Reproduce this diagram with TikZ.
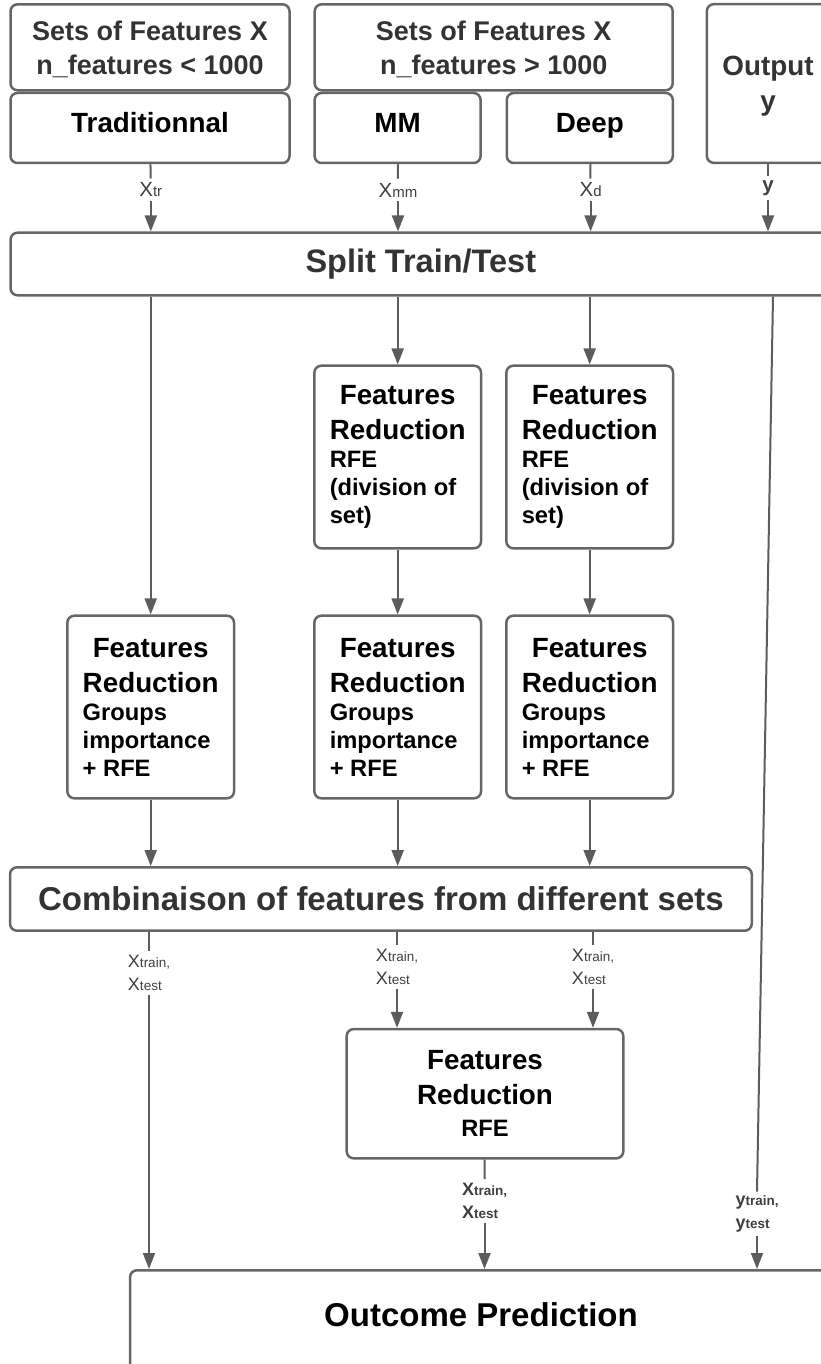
\documentclass[tikz,border=0pt]{standalone}
\usepackage{fontspec}
\setmainfont{Liberation Sans}
\usetikzlibrary{arrows.meta}
\definecolor{boxgray}{HTML}{666666}
\definecolor{linegray}{HTML}{5C5C5C}
\definecolor{darktext}{HTML}{333333}
\definecolor{labgray}{HTML}{3F3F3F}
\newcommand{\bigfont}{\fontsize{27.8}{35}\selectfont}
\newcommand{\smallfont}{\fontsize{23.7}{28}\selectfont}
\newlength{\redwidth}
% first two lines centred, the rest flush left
\newcommand{\featred}[1]{%
  \settowidth{\redwidth}{\bfseries\bigfont Reduction}%
  {\bigfont\makebox[\redwidth][c]{Features}}\\[7pt]
  {\bigfont Reduction}\\ #1}
\newcommand{\xs}[2]{{\fontsize{18}{23}\selectfont #1}{\fontsize{13.5}{23}\selectfont #2}}
\newcommand{\xt}[2]{{\fontsize{20.5}{23}\selectfont #1}{\fontsize{15}{23}\selectfont #2}}
\tikzset{
        box/.style={draw=boxgray, line width=2.5pt, rounded corners=7pt, inner sep=0pt, font=\bfseries\bigfont, align=center},
        dark/.style={box, text=darktext},
        tbox/.style={box, minimum height=70pt, text height=16pt, text depth=6pt},
        frbox/.style={box, minimum width=166.7pt, minimum height=182.6pt, font=\bfseries\smallfont, align=left},
        conn/.style={draw=linegray, line width=2pt},
        arr/.style={conn, -{Triangle[length=16pt, width=12pt]}},
        lbl/.style={text=labgray, inner sep=4pt, align=left, font=\fontsize{18}{23}\selectfont},
        blbl/.style={lbl, font=\bfseries\fontsize{18}{23}\selectfont}
          }
\begin{document}
\begin{tikzpicture}[x=1pt, y=-1pt]
        \useasboundingbox (0,0) rectangle (821,1364);
        \clip (0,0) rectangle (821,1364);
        % inputs
        \node[dark, minimum width=279pt, minimum height=86pt, text depth=0pt, font=\bfseries\fontsize{27}{34}\selectfont] (setsA) at (150,47.3) {Sets of Features X\\n\_features < 1000};
        \node[tbox, minimum width=279pt] (trad) at (150,128) {Traditionnal};
        \node[dark, minimum width=358pt, minimum height=86pt, text depth=0pt, font=\bfseries\fontsize{27}{34}\selectfont] (setsB) at (493.7,47.3) {Sets of Features X\\n\_features > 1000};
        \node[tbox, minimum width=166pt] (mm) at (397.6,128) {MM};
        \node[tbox, minimum width=166pt] (deep) at (589.8,128) {Deep};
        \node[dark, minimum width=122.4pt, minimum height=158.7pt, text depth=0pt] (out) at (768,83.5) {Output\\y};
        \node[dark, minimum width=820.5pt, minimum height=62.6pt, font=\bfseries\fontsize{32.5}{38}\selectfont] (split) at (420.8,264) {Split Train/Test};
        % reductions
        \node[frbox] (rfe1) at (397.7,457) {\featred{RFE\\(division of\\set)}};
        \node[frbox] (rfe2) at (589.7,457) {\featred{RFE\\(division of\\set)}};
        \node[frbox] (grp0) at (150.7,707) {\featred{Groups\\importance\\+ RFE}};
        \node[frbox] (grp1) at (397.7,707) {\featred{Groups\\importance\\+ RFE}};
        \node[frbox] (grp2) at (589.7,707) {\featred{Groups\\importance\\+ RFE}};
        \node[dark, minimum width=741.7pt, minimum height=63.4pt, font=\bfseries\fontsize{33}{40}\selectfont] (comb) at (380.9,899) {Combinaison of features from different sets};
        \node[box, minimum width=276.6pt, minimum height=129.3pt, font=\bfseries\smallfont] (rfe3) at (485,1093.7) {{\bigfont Features}\\[7pt]{\bigfont Reduction}\\[3.7pt]RFE};
        \node[box, anchor=north, minimum width=702pt, inner ysep=32pt, text height=24pt, text depth=100pt, font=\bfseries\fontsize{33}{40}\selectfont] (pred) at (481,1269) {Outcome Prediction};
        % labels
        \node[lbl] (ltr) at (150.8,190) {\xt{X}{tr}};
        \node[lbl] (lmm) at (398,190) {\xt{X}{mm}};
        \node[lbl] (ld) at (590.6,190) {\xt{X}{d}};
        \node[blbl] (ly) at (768,188) {\xt{y}{}};
        \node[lbl] (lc0) at (149,973) {\xs{X}{train,}\\\xs{X}{test}};
        \node[lbl] (lc1) at (397,967) {\xs{X}{train,}\\\xs{X}{test}};
        \node[lbl] (lc2) at (593,967) {\xs{X}{train,}\\\xs{X}{test}};
        \node[blbl] (lr) at (484.5,1201) {\xs{X}{train,}\\\xs{X}{test}};
        \node[blbl] (lyt) at (757,1214) {\xs{y}{train,}\\\xs{y}{test}};
        \coordinate (ytop) at (773,0);
        % connectors
        \draw[conn] (trad) -- (ltr);
        \draw[arr] (ltr) -- (ltr |- split.north);
        \draw[conn] (mm) -- (lmm);
        \draw[arr] (lmm) -- (lmm |- split.north);
        \draw[conn] (deep) -- (ld);
        \draw[arr] (ld) -- (ld |- split.north);
        \draw[conn] (out) -- (ly);
        \draw[arr] (ly) -- (ly |- split.north);
        \draw[arr] (grp0 |- split.south) -- (grp0);
        \draw[arr] (rfe1 |- split.south) -- (rfe1);
        \draw[arr] (rfe2 |- split.south) -- (rfe2);
        \draw[arr] (rfe1) -- (grp1);
        \draw[arr] (rfe2) -- (grp2);
        \draw[arr] (grp0) -- (grp0 |- comb.north);
        \draw[arr] (grp1) -- (grp1 |- comb.north);
        \draw[arr] (grp2) -- (grp2 |- comb.north);
        \draw[conn] (comb.south -| lc0) -- (lc0);
        \draw[arr] (lc0) -- (lc0 |- pred.north);
        \draw[conn] (comb.south -| lc1) -- (lc1);
        \draw[arr] (lc1) -- (lc1 |- rfe3.north);
        \draw[conn] (comb.south -| lc2) -- (lc2);
        \draw[arr] (lc2) -- (lc2 |- rfe3.north);
        \draw[conn] (rfe3) -- (lr);
        \draw[arr] (lr) -- (lr |- pred.north);
        \draw[conn] (split.south -| ytop) -- (lyt.north);
        \draw[arr] (lyt.south) -- (lyt.south |- pred.north);
\end{tikzpicture}
\end{document}
